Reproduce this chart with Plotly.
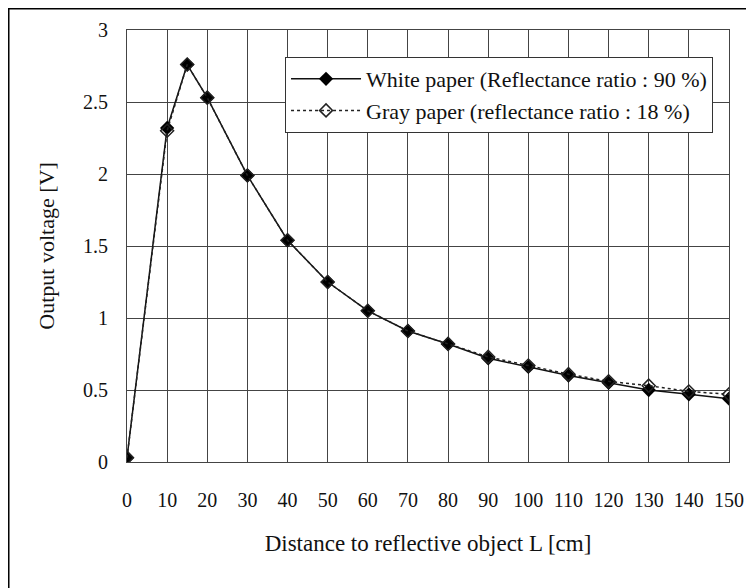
import plotly.graph_objects as go

distance_cm = [0, 10, 15, 20, 30, 40, 50, 60, 70, 80, 90, 100, 110, 120, 130, 140, 150]
white_v = [0.03, 2.32, 2.76, 2.53, 1.99, 1.54, 1.25, 1.05, 0.91, 0.82, 0.72, 0.66, 0.60, 0.55, 0.50, 0.47, 0.44]
gray_v = [0.03, 2.30, 2.76, 2.53, 1.99, 1.54, 1.25, 1.05, 0.91, 0.82, 0.73, 0.67, 0.61, 0.56, 0.53, 0.49, 0.47]
x_ticks = list(range(0, 151, 10))
y_ticks = [0, 0.5, 1, 1.5, 2, 2.5, 3]

FONT = "Liberation Serif, Times New Roman, serif"

fig = go.Figure()
fig.add_trace(go.Scatter(
    x=distance_cm, y=white_v, mode="lines+markers",
    name="White paper (Reflectance ratio : 90 %)",
    legendgroup="w",
    line={"color": "#111", "width": 1.5},
    marker={"symbol": "diamond", "size": 11, "color": "#000"},
))
fig.add_trace(go.Scatter(
    x=distance_cm, y=gray_v, mode="lines+markers",
    name="Gray paper (reflectance ratio : 18 %)",
    legendgroup="g",
    line={"color": "#222", "width": 1.5, "dash": "dot"},
    marker={"symbol": "diamond-open", "size": 10, "color": "#222", "line": {"width": 1.5}},
))

# outer frame: only left and top edges are visible in the picture
fig.add_shape(type="rect", xref="paper", yref="paper",
              x0=-0.1964, x1=2, y0=-1, y1=1.049,
              line={"color": "#000", "width": 1.5})

# page has an 8px body margin, so the figure is a bit smaller than the window
fig.update_layout(
    width=746, height=580,
    margin={"l": 119, "r": 25, "t": 22, "b": 126},
    paper_bgcolor="white", plot_bgcolor="white",
    font={"family": FONT, "size": 20, "color": "#111"},
    showlegend=True,
    legend={
        "x": 0.2625, "y": 0.9375, "xanchor": "left", "yanchor": "top",
        "bgcolor": "white", "bordercolor": "#333", "borderwidth": 1,
        "font": {"family": FONT, "size": 22, "color": "#111"},
        "itemwidth": 70, "tracegroupgap": 0,
    },
    xaxis={
        "range": [0, 150], "tickvals": x_ticks, "automargin": False,
        "ticklabeloverflow": "allow",
        "showgrid": True, "gridcolor": "#444", "gridwidth": 1,
        "showline": True, "linecolor": "#444", "mirror": True,
        "zeroline": False, "ticks": "", "ticklabelstandoff": 20,
        "title": {"text": "Distance to reflective object L [cm]", "standoff": 24,
                  "font": {"size": 23}},
    },
    yaxis={
        "range": [0, 3], "tickvals": y_ticks, "automargin": False,
        "showgrid": True, "gridcolor": "#444", "gridwidth": 1,
        "showline": True, "linecolor": "#444", "mirror": True,
        "zeroline": False, "ticks": "", "ticklabelstandoff": 14,
        "title": {"text": "Output voltage [V]", "standoff": 22,
                  "font": {"size": 22}},
    },
)

fig.write_html("out.html")
